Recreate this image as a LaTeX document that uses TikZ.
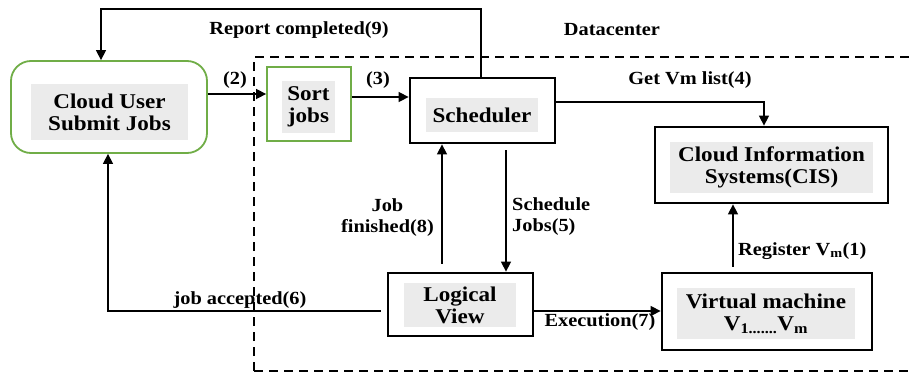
\documentclass[tikz,border=0pt]{standalone}
\usepackage{fontspec}
\setmainfont{Liberation Serif}[FakeStretch=1.1]
\usetikzlibrary{arrows.meta,calc}
\definecolor{ggreen}{HTML}{70AD47}
\definecolor{ggrey}{HTML}{EBEBEB}
\begin{document}
\begin{tikzpicture}[x=1pt,y=-1pt,
  thickbox/.style={draw=black,line width=2.8pt,inner sep=0pt},
  greenbox/.style={draw=ggreen,line width=1.8pt,inner sep=0pt},
  greyin/.style={fill=ggrey,inner sep=0pt,align=center,font=\fontsize{21}{22}\selectfont\bfseries},
  lbl/.style={font=\fontsize{18.5}{21}\selectfont\bfseries,inner sep=0pt,align=center},
  arr/.style={line width=1.5pt,-{Triangle[length=10pt,width=10pt]}},
  dc/.style={line width=2.6pt,dash pattern=on 9pt off 6pt}]
\useasboundingbox (0,0) rectangle (911,375);
\begin{scope}
\clip (0,0) rectangle (911,375);
\draw[dc] (254,371) -- (254,57) -- (930,57);
\draw[dc] (254,371) -- (930,371);
\end{scope}
% boxes
\node[greenbox,rounded corners=20pt,minimum width=196pt,minimum height=92pt] (cloud) at (109,107) {};
\node[greyin,minimum width=157pt,minimum height=56pt] (cloudt) at (109.5,112) {Cloud User\\Submit Jobs};
\node[greenbox,minimum width=84pt,minimum height=74pt] (sort) at (309,104) {};
\node[greyin,minimum width=53pt,minimum height=52pt] (sortt) at (308.5,107) {Sort\\jobs};
\node[thickbox,minimum width=145pt,minimum height=65pt] (sched) at (482.5,110.5) {};
\node[greyin,minimum width=112pt,minimum height=34pt] (schedt) at (482,115) {Scheduler};
\node[thickbox,minimum width=233pt,minimum height=76pt] (cis) at (771.5,165) {};
\node[greyin,minimum width=203pt,minimum height=51pt] (cist) at (771.5,167.5) {Cloud Information\\Systems(CIS)};
\node[thickbox,minimum width=145pt,minimum height=63pt] (logic) at (460.5,304.5) {};
\node[greyin,minimum width=112pt,minimum height=44pt] (logict) at (460,305) {Logical\\View};
\node[thickbox,minimum width=210pt,minimum height=77pt] (vm) at (767,311.5) {};
\node[greyin,minimum width=178pt,minimum height=51pt] (vmt) at (766,313.5) {Virtual machine\\V\textsubscript{1.......}V\textsubscript{m}};
% labels
\node[lbl] (lrep) at (299,30) {Report completed(9)};
\node[lbl] (ldc) at (612,30) {Datacenter};
\node[lbl] (l2) at (235,80) {(2)};
\node[lbl] (l3) at (378,80) {(3)};
\node[lbl] (l4) at (690,80) {Get Vm list(4)};
\node[lbl,anchor=west,align=left] (l5) at (512,217) {Schedule\\Jobs(5)};
\node[lbl,anchor=east,align=center] (l8) at (434,218) {Job\\finished(8)};
\node[lbl] (l6) at (240,300) {job accepted(6)};
\node[lbl] (l7) at (600,322) {Execution(7)};
\node[lbl,anchor=west] (l1) at (738,251) {Register V\textsubscript{m}(1)};
% connectors
\coordinate (rtop) at (481,9);
\draw[arr] ([xshift=-1.5pt]sched.north) |- (rtop) -| ([xshift=-8pt]cloud.north);
\draw[arr] (cloud.east |- 0,94) -- (sort.west |- 0,94);
\draw[arr] (sort.east |- 0,97) -- (sched.west |- 0,97);
\draw[arr] (sched.east |- 0,102) -| ([xshift=-7.5pt]cis.north);
\draw[arr] ([xshift=23.5pt,yshift=-6pt]sched.south) -- ([xshift=45.5pt]logic.north);
\draw[arr] ([xshift=-18.5pt,yshift=8pt]logic.north) -- ([xshift=-40.5pt]sched.south);
\draw[arr] ([xshift=-6pt]logic.west |- 0,311) -| ([xshift=-1pt]cloud.south);
\draw[arr] (logic.east |- 0,311) -- (vm.west |- 0,311);
\draw[arr] ([xshift=-34pt,yshift=5pt]vm.north) -- ([xshift=-38.5pt]cis.south);
\end{tikzpicture}
\end{document}
